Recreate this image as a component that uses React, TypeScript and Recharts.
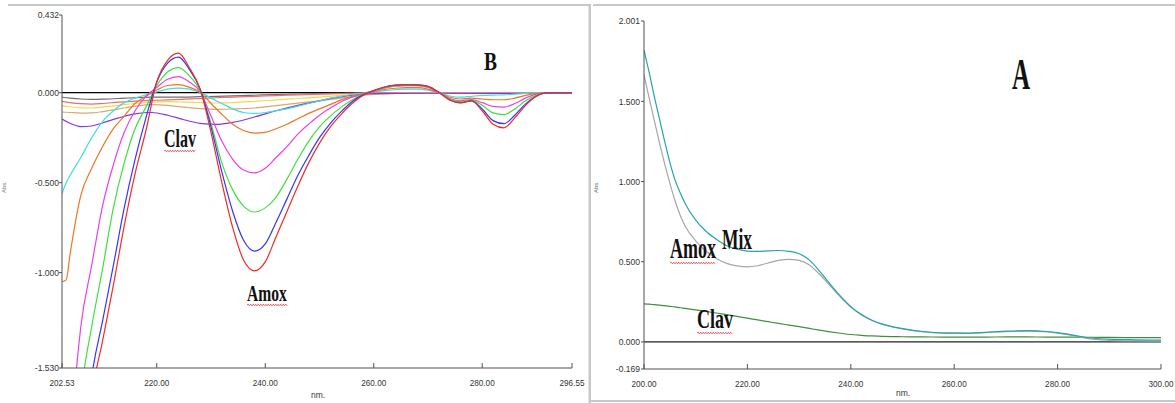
import React from 'react';
import { LineChart, Line, XAxis, YAxis, ReferenceLine } from 'recharts';

// ---------- Panel B (derivative spectra) ----------
const wlB = [202.53, 203.3, 204, 206, 208, 210, 212, 214, 216, 218, 220, 222, 224, 226, 228, 230, 232, 234, 236, 238, 240, 242, 244, 246, 248, 250, 252, 254, 256, 258, 260, 262, 264, 266, 268, 270, 272, 274, 276, 278, 280, 282, 284, 286, 288, 290, 292, 294, 296.55];
const bRed = [-3.2, -3.0, -2.8, -2.3, -1.69, -1.38, -1.07, -0.74, -0.45, -0.21, 0.06, 0.18, 0.22, 0.14, 0.02, -0.22, -0.5, -0.75, -0.93, -0.99, -0.94, -0.8, -0.66, -0.52, -0.39, -0.28, -0.19, -0.12, -0.06, -0.015, 0.012, 0.032, 0.042, 0.045, 0.044, 0.035, 0.002, -0.04, -0.056, -0.046, -0.1, -0.175, -0.195, -0.14, -0.07, -0.02, 0, 0, 0];
const bBlue = [-3.1, -2.9, -2.7, -2.15, -1.58, -1.27, -0.96, -0.64, -0.37, -0.14, 0.06, 0.165, 0.198, 0.13, 0.02, -0.19, -0.44, -0.66, -0.82, -0.88, -0.84, -0.72, -0.59, -0.46, -0.35, -0.25, -0.17, -0.105, -0.05, -0.012, 0.012, 0.032, 0.042, 0.045, 0.044, 0.035, 0.002, -0.04, -0.055, -0.045, -0.09, -0.155, -0.172, -0.125, -0.062, -0.018, 0, 0, 0];
const bGreen = [-2.9, -2.65, -2.4, -1.68, -1.3, -0.98, -0.64, -0.39, -0.2, -0.08, 0.04, 0.115, 0.14, 0.095, 0.01, -0.17, -0.39, -0.54, -0.63, -0.663, -0.64, -0.58, -0.48, -0.37, -0.27, -0.19, -0.13, -0.08, -0.04, -0.008, 0.01, 0.028, 0.038, 0.042, 0.041, 0.032, 0.002, -0.036, -0.05, -0.042, -0.07, -0.112, -0.122, -0.09, -0.045, -0.013, 0, 0, 0];
const bMagenta = [-2.7, -2.35, -2.0, -1.3, -0.96, -0.63, -0.4, -0.22, -0.1, -0.02, 0.03, 0.075, 0.09, 0.06, 0.005, -0.13, -0.27, -0.37, -0.43, -0.446, -0.42, -0.36, -0.3, -0.23, -0.175, -0.125, -0.085, -0.05, -0.025, -0.005, 0.01, 0.026, 0.036, 0.04, 0.04, 0.03, 0.002, -0.032, -0.045, -0.038, -0.055, -0.076, -0.08, -0.06, -0.03, -0.008, 0, 0, 0];
const bOrange = [-1.05, -1.04, -0.9, -0.57, -0.42, -0.3, -0.2, -0.13, -0.06, -0.02, 0.015, 0.04, 0.045, 0.03, 0.003, -0.06, -0.12, -0.175, -0.21, -0.224, -0.22, -0.2, -0.175, -0.145, -0.115, -0.09, -0.065, -0.04, -0.02, -0.005, 0.006, 0.018, 0.025, 0.028, 0.028, 0.02, 0, -0.025, -0.035, -0.03, -0.035, -0.039, -0.039, -0.03, -0.015, -0.004, 0, 0, 0];
const bCyan = [-0.56, -0.5, -0.46, -0.36, -0.25, -0.16, -0.1, -0.055, -0.03, -0.012, 0.005, 0.02, 0.026, 0.02, 0.002, -0.03, -0.06, -0.09, -0.11, -0.115, -0.11, -0.1, -0.09, -0.075, -0.06, -0.045, -0.03, -0.02, -0.01, -0.003, 0.004, 0.012, 0.018, 0.02, 0.02, 0.014, 0, -0.018, -0.025, -0.02, -0.015, -0.013, -0.012, -0.008, -0.004, -0.001, 0, 0, 0];

const wlL = [202.53, 204, 206, 208, 210, 213, 216, 219, 222, 225, 228, 231, 234, 238, 242, 246, 250, 255, 260, 270, 280, 290, 296.55];
const lGray = [-0.025, -0.03, -0.035, -0.037, -0.036, -0.032, -0.028, -0.025, -0.024, -0.024, -0.022, -0.02, -0.018, -0.014, -0.01, -0.007, -0.005, -0.003, -0.001, 0, 0, 0, 0];
const lSalmon = [-0.048, -0.055, -0.061, -0.063, -0.06, -0.052, -0.047, -0.043, -0.04, -0.036, -0.032, -0.028, -0.024, -0.02, -0.016, -0.012, -0.008, -0.004, -0.001, 0, 0, 0, 0];
const lYellow = [-0.072, -0.078, -0.084, -0.085, -0.08, -0.07, -0.06, -0.052, -0.05, -0.052, -0.055, -0.057, -0.055, -0.048, -0.04, -0.032, -0.024, -0.012, -0.004, 0, 0, 0, 0];
const lTan = [-0.107, -0.11, -0.113, -0.112, -0.105, -0.09, -0.075, -0.066, -0.07, -0.08, -0.088, -0.092, -0.09, -0.085, -0.072, -0.058, -0.045, -0.026, -0.01, 0, 0, 0, 0];
const lPurple = [-0.146, -0.17, -0.188, -0.185, -0.168, -0.14, -0.118, -0.11, -0.125, -0.15, -0.17, -0.176, -0.165, -0.135, -0.1, -0.07, -0.045, -0.018, -0.005, -0.003, -0.004, -0.004, -0.004];

const bXTicks = [202.53, 220, 240, 260, 280, 296.55];
const bTopTicks = [220, 240, 260, 280];
const bYTicks = [0.432, 0, -0.5, -1, -1.53];
const bXDomain = [202.53, 296.55];
const bYDomain = [-1.53, 0.432];

// ---------- Panel A (zero-order spectra) ----------
const wlA = [200, 201, 202, 203, 204, 205, 206, 207, 208, 210, 212, 214, 216, 218, 220, 222, 224, 226, 228, 230, 232, 234, 236, 238, 240, 242, 244, 246, 248, 250, 254, 258, 262, 266, 270, 274, 278, 280, 282, 284, 286, 290, 295, 300];
const aMix = [1.82, 1.68, 1.53, 1.39, 1.25, 1.12, 1.01, 0.93, 0.86, 0.76, 0.69, 0.64, 0.6, 0.578, 0.566, 0.564, 0.568, 0.57, 0.565, 0.55, 0.51, 0.44, 0.36, 0.285, 0.22, 0.172, 0.137, 0.112, 0.095, 0.083, 0.065, 0.056, 0.055, 0.06, 0.067, 0.07, 0.065, 0.058, 0.048, 0.036, 0.026, 0.017, 0.013, 0.011];
const aAmox = [1.665, 1.52, 1.38, 1.24, 1.11, 0.99, 0.88, 0.79, 0.72, 0.63, 0.565, 0.52, 0.49, 0.474, 0.468, 0.475, 0.492, 0.508, 0.515, 0.508, 0.48, 0.42, 0.35, 0.28, 0.218, 0.17, 0.135, 0.11, 0.093, 0.081, 0.063, 0.054, 0.053, 0.058, 0.064, 0.067, 0.062, 0.055, 0.045, 0.032, 0.02, 0.01, 0.006, 0.004];
const aClav = [0.237, 0.235, 0.232, 0.229, 0.226, 0.222, 0.218, 0.213, 0.209, 0.2, 0.19, 0.18, 0.17, 0.159, 0.148, 0.137, 0.126, 0.115, 0.105, 0.095, 0.084, 0.073, 0.063, 0.054, 0.046, 0.041, 0.037, 0.035, 0.033, 0.032, 0.031, 0.03, 0.03, 0.03, 0.031, 0.031, 0.03, 0.03, 0.03, 0.029, 0.029, 0.028, 0.027, 0.027];

const aXTicks = [200, 220, 240, 260, 280, 300];
const aTopTicks = [220, 240, 260, 280];
const aYTicks = [2.001, 1.5, 1, 0.5, 0, -0.169];
const aXDomain = [200, 300];
const aYDomain = [-0.169, 2.001];

const toPts = (xs: number[], ys: number[]) => xs.map((x, i) => ({ x, v: ys[i] }));

const FONT = '"Liberation Sans", Arial, sans-serif';
const SERIF = '"Liberation Serif", "Times New Roman", serif';
const AXIS = '#505050';

function YTick(props: any) {
  const { x, y, payload } = props;
  return (
    <g transform={`translate(${x},${y})`}>
      <text transform="scale(0.9,1)" textAnchor="end" dy={3.4} fontSize={9.5} fill="#333" fontFamily={FONT}>
        {Number(payload.value).toFixed(3)}
      </text>
    </g>
  );
}
function XTick(props: any) {
  const { x, y, payload } = props;
  return (
    <g transform={`translate(${x},${y})`}>
      <text transform="scale(0.86,1)" textAnchor="middle" dy={7} fontSize={9.5} fill="#333" fontFamily={FONT}>
        {Number(payload.value).toFixed(2)}
      </text>
    </g>
  );
}
const NoTick = () => <g />;

function squiggle(x0: number, x1: number, y: number) {
  let d = `M${x0},${y}`;
  let up = true;
  for (let x = x0 + 1.25; x <= x1; x += 1.25) {
    d += ` L${x.toFixed(2)},${(y + (up ? -0.8 : 0.8)).toFixed(2)}`;
    up = !up;
  }
  return <path d={d} stroke="#e33" strokeWidth={0.8} fill="none" />;
}

function Label(props: { x: number; y: number; size: number; sx: number; children: string }) {
  const { x, y, size, sx, children } = props;
  return (
    <text transform={`translate(${x},${y}) scale(${sx},1)`} fontSize={size} fontFamily={SERIF} fontWeight="bold" fill="#111">
      {children}
    </text>
  );
}

const lineCommon = { type: 'monotone' as const, dot: false, isAnimationActive: false, dataKey: 'v', strokeWidth: 1.2, activeDot: false };

function PanelB() {
  return (
    <LineChart width={590} height={403} margin={{ top: 15, right: 18, bottom: 0, left: 0 }}>
      <XAxis dataKey="x" type="number" domain={bXDomain} allowDataOverflow ticks={bXTicks} interval={0}
        tick={<XTick />} tickSize={-5} tickMargin={16} height={35} stroke={AXIS} />
      <XAxis xAxisId="t" orientation="top" type="number" domain={bXDomain} allowDataOverflow ticks={bTopTicks} interval={0}
        tick={NoTick} tickSize={-5} height={0} stroke={AXIS} />
      <YAxis type="number" domain={bYDomain} allowDataOverflow ticks={bYTicks} interval={0}
        tick={<YTick />} tickSize={3} tickMargin={0} width={62} stroke={AXIS} />
      <YAxis yAxisId="r" orientation="right" type="number" domain={bYDomain} allowDataOverflow ticks={bYTicks} interval={0}
        tick={NoTick} tickSize={-5} width={0} stroke={AXIS} />
      <ReferenceLine y={0} stroke="#000" strokeWidth={1.3} />
      <Line {...lineCommon} data={toPts(wlL, lGray)} stroke="#6e6e6e" />
      <Line {...lineCommon} data={toPts(wlL, lSalmon)} stroke="#f06a6a" />
      <Line {...lineCommon} data={toPts(wlL, lYellow)} stroke="#f2d94a" />
      <Line {...lineCommon} data={toPts(wlL, lTan)} stroke="#d6a878" />
      <Line {...lineCommon} data={toPts(wlL, lPurple)} stroke="#8a35df" />
      <Line {...lineCommon} data={toPts(wlB, bCyan)} stroke="#3fdede" />
      <Line {...lineCommon} data={toPts(wlB, bOrange)} stroke="#ef7526" />
      <Line {...lineCommon} data={toPts(wlB, bMagenta)} stroke="#e842e8" />
      <Line {...lineCommon} data={toPts(wlB, bGreen)} stroke="#3ee03e" />
      <Line {...lineCommon} data={toPts(wlB, bBlue)} stroke="#3535f5" />
      <Line {...lineCommon} data={toPts(wlB, bRed)} stroke="#f42a22" />
    </LineChart>
  );
}

function PanelA() {
  return (
    <LineChart width={585} height={403} margin={{ top: 21, right: 14, bottom: 0, left: 0 }}>
      <XAxis dataKey="x" type="number" domain={aXDomain} allowDataOverflow ticks={aXTicks} interval={0}
        tick={<XTick />} tickSize={-5} tickMargin={16} height={34} stroke={AXIS} />
      <XAxis xAxisId="t" orientation="top" type="number" domain={aXDomain} allowDataOverflow ticks={aTopTicks} interval={0}
        tick={NoTick} tickSize={-5} height={0} stroke={AXIS} />
      <YAxis type="number" domain={aYDomain} allowDataOverflow ticks={aYTicks} interval={0}
        tick={<YTick />} tickSize={3} tickMargin={1} width={54} stroke={AXIS} />
      <YAxis yAxisId="r" orientation="right" type="number" domain={aYDomain} allowDataOverflow ticks={aYTicks} interval={0}
        tick={NoTick} tickSize={-5} width={0} stroke={AXIS} />
      <ReferenceLine y={0} stroke="#222" strokeWidth={1.2} />
      <Line {...lineCommon} data={toPts(wlA, aClav)} stroke="#3f8f3f" />
      <Line {...lineCommon} data={toPts(wlA, aAmox)} stroke="#a6a6a6" />
      <Line {...lineCommon} data={toPts(wlA, aMix)} stroke="#25a5a5" />
    </LineChart>
  );
}

export default function App() {
  return (
    <div style={{ position: 'absolute', left: 0, top: 0, width: 1175, height: 403, background: '#fff', overflow: 'hidden' }}>
      <div style={{ position: 'absolute', left: 0, top: 0 }}>
        <PanelB />
      </div>
      <div style={{ position: 'absolute', left: 590, top: 0 }}>
        <PanelA />
      </div>
      <svg width={1175} height={403} style={{ position: 'absolute', left: 0, top: 0, pointerEvents: 'none' }}>
        <rect x={8} y={4} width={583} height={2} fill="#c8c8c8" />
        <rect x={593} y={4} width={582} height={2} fill="#c8c8c8" />
        <rect x={588.5} y={4} width={2.5} height={399} fill="#c8c8c8" />
        <rect x={591} y={400} width={584} height={2} fill="#c8c8c8" />

        <Label x={484} y={70} size={26} sx={0.75}>B</Label>
        <Label x={164} y={147} size={25} sx={0.64}>Clav</Label>
        {squiggle(164, 196, 151)}
        <Label x={247} y={301} size={24} sx={0.65}>Amox</Label>
        {squiggle(247, 287, 305)}

        <Label x={1012} y={89} size={44} sx={0.57}>A</Label>
        <Label x={722} y={249} size={30} sx={0.58}>Mix</Label>
        <Label x={670} y={258} size={30} sx={0.6}>Amox</Label>
        {squiggle(670, 716, 263)}
        <Label x={697} y={328} size={27} sx={0.667}>Clav</Label>
        {squiggle(697, 733, 333)}

        <text x={311} y={398} fontSize={8.5} fill="#333" fontFamily={FONT}>nm.</text>
        <text x={896} y={396} fontSize={8.5} fill="#333" fontFamily={FONT}>nm.</text>
        <text transform="translate(6,193) rotate(-90)" fontSize={6} fill="#777" fontFamily={FONT}>Abs.</text>
        <text transform="translate(598,193) rotate(-90)" fontSize={6} fill="#667" fontFamily={FONT}>Abs.</text>
      </svg>
    </div>
  );
}
